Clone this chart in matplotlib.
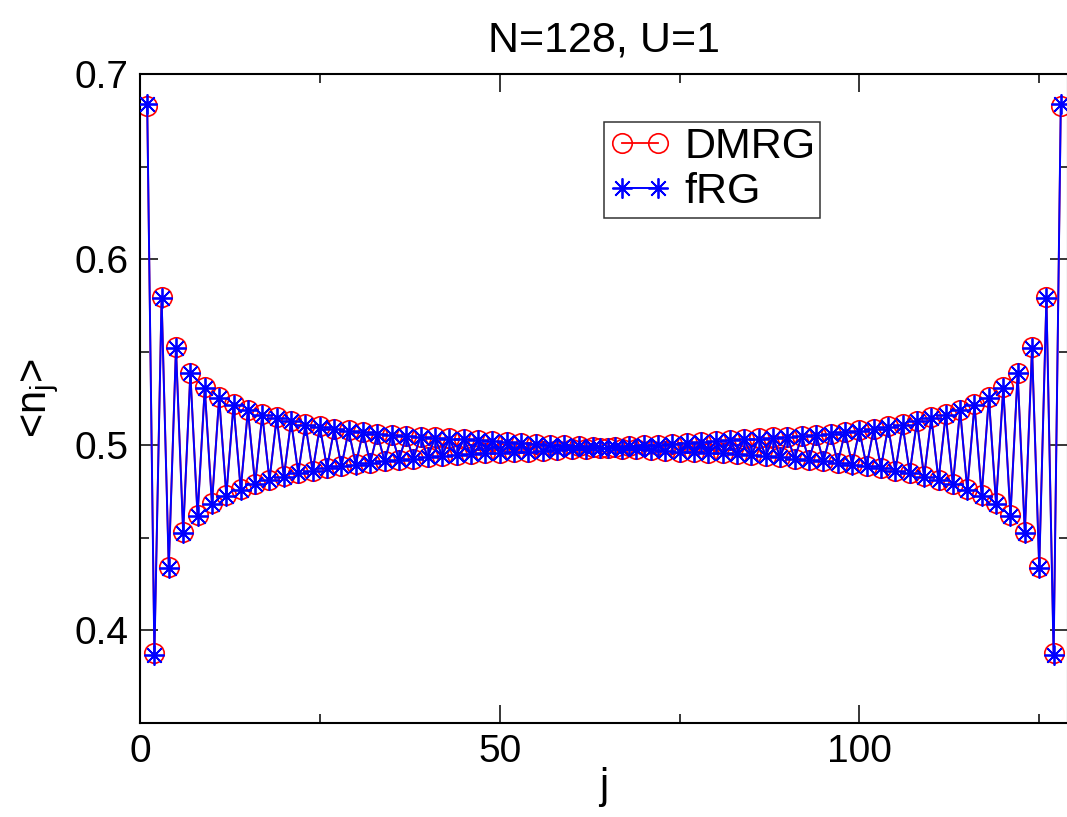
import matplotlib
matplotlib.use("Agg")
import matplotlib.pyplot as plt
from matplotlib.ticker import MultipleLocator

plt.rcParams['font.family'] = ['Liberation Sans', 'DejaVu Sans']
plt.rcParams['mathtext.default'] = 'regular'

title = "N=128, U=1"
xlabel = "j"
ylabel = "<n$_j$>"
labels = ["DMRG", "fRG"]

sites = list(range(1, 129))

dmrg = [
    0.683, 0.388, 0.580, 0.434, 0.553, 0.453, 0.539, 0.462, 0.531, 0.4685,
    0.526, 0.473, 0.522, 0.476, 0.519, 0.479, 0.5165, 0.481, 0.515, 0.483,
    0.513, 0.485, 0.511, 0.486, 0.510, 0.4877, 0.5087, 0.4886, 0.5078, 0.4895,
    0.507, 0.4904, 0.506, 0.4912, 0.5055, 0.4918, 0.5048, 0.4926, 0.5044, 0.4933,
    0.504, 0.4940, 0.5035, 0.4945, 0.5030, 0.4950, 0.5025, 0.4955, 0.5020, 0.4958,
    0.5015, 0.4961, 0.5010, 0.4964, 0.5004, 0.4967, 0.5000, 0.4971, 0.4997, 0.4975,
    0.4994, 0.4978, 0.4991, 0.4982,
    0.4982, 0.4991, 0.4978, 0.4994, 0.4975, 0.4997, 0.4971, 0.5000, 0.4967, 0.5004,
    0.4964, 0.5010, 0.4961, 0.5015, 0.4958, 0.5020, 0.4955, 0.5025, 0.4950, 0.5030,
    0.4945, 0.5035, 0.4940, 0.504, 0.4933, 0.5044, 0.4926, 0.5048, 0.4918, 0.5055,
    0.4912, 0.506, 0.4904, 0.507, 0.4895, 0.5078, 0.4886, 0.5087, 0.4877, 0.510,
    0.486, 0.511, 0.485, 0.513, 0.483, 0.515, 0.481, 0.5165, 0.479, 0.519,
    0.476, 0.522, 0.473, 0.526, 0.4685, 0.531, 0.462, 0.539, 0.453, 0.553,
    0.434, 0.580, 0.388, 0.683,
]

frg = [
    0.684, 0.3865, 0.579, 0.4335, 0.552, 0.4525, 0.5385, 0.4615, 0.5305, 0.468,
    0.5255, 0.4725, 0.5215, 0.4758, 0.5187, 0.4787, 0.5162, 0.4808, 0.5147, 0.4828,
    0.5128, 0.4848, 0.5108, 0.4858, 0.5098, 0.4876, 0.5085, 0.4885, 0.5077, 0.4894,
    0.5069, 0.4903, 0.5059, 0.4911, 0.5054, 0.4918, 0.5047, 0.4926, 0.5043, 0.4933,
    0.5039, 0.4940, 0.5034, 0.4945, 0.5029, 0.4950, 0.5024, 0.4955, 0.5019, 0.4958,
    0.5014, 0.4961, 0.5009, 0.4964, 0.5004, 0.4967, 0.5000, 0.4971, 0.4997, 0.4975,
    0.4994, 0.4978, 0.4991, 0.4982,
    0.4982, 0.4991, 0.4978, 0.4994, 0.4975, 0.4997, 0.4971, 0.5000, 0.4967, 0.5004,
    0.4964, 0.5009, 0.4961, 0.5014, 0.4958, 0.5019, 0.4955, 0.5024, 0.4950, 0.5029,
    0.4945, 0.5034, 0.4940, 0.5039, 0.4933, 0.5043, 0.4926, 0.5047, 0.4918, 0.5054,
    0.4911, 0.5059, 0.4903, 0.5069, 0.4894, 0.5077, 0.4885, 0.5085, 0.4876, 0.5098,
    0.4858, 0.5108, 0.4848, 0.5128, 0.4828, 0.5147, 0.4808, 0.5162, 0.4787, 0.5187,
    0.4758, 0.5215, 0.4725, 0.5255, 0.468, 0.5305, 0.4615, 0.5385, 0.4525, 0.552,
    0.4335, 0.579, 0.3865, 0.684,
]

W, H = 1067, 817
fig = plt.figure(figsize=(W / 100, H / 100), dpi=100)
ax = fig.add_axes([140 / W, 94 / H, 928 / W, 649 / H])

ax.plot(sites, dmrg, color='#ff0000', lw=1.3, marker='o', ms=14,
        mfc='none', mec='#ff0000', mew=1.2, label=labels[0], zorder=2)
ax.plot(sites, frg, color='#0000ff', lw=1.4, marker=(8, 2, 0), ms=14.5,
        mec='#0000ff', mew=1.3, label=labels[1], zorder=3)

ax.set_xlim(0, 129)
ax.set_ylim(0.35, 0.7)
ax.xaxis.set_major_locator(MultipleLocator(50))
ax.xaxis.set_minor_locator(MultipleLocator(25))
ax.yaxis.set_major_locator(MultipleLocator(0.1))
ax.yaxis.set_minor_locator(MultipleLocator(0.05))
ax.set_yticks([0.4, 0.5, 0.6, 0.7])
ax.set_yticklabels(["0.4", "0.5", "0.6", "0.7"])
ax.tick_params(which='both', direction='in', top=True, right=True,
               labelsize=28, width=1.1, pad=8)
ax.tick_params(which='major', length=13)
ax.tick_params(which='minor', length=6.5)
for s in ax.spines.values():
    s.set_linewidth(1.5)

ax.set_title(title, fontsize=31, pad=16)
ax.set_xlabel(xlabel, fontsize=30, labelpad=-2)
ax.set_ylabel(ylabel, fontsize=30, labelpad=10)

leg = ax.legend(loc='upper left', bbox_to_anchor=(0.4995, 0.926), numpoints=2,
                fontsize=31, frameon=True, fancybox=False, handlelength=1.45,
                handletextpad=0.3, borderpad=0.12, labelspacing=0.12,
                borderaxespad=0)
leg.get_frame().set_edgecolor('black')
leg.get_frame().set_linewidth(1.1)

fig.savefig("out.png", dpi=100)
